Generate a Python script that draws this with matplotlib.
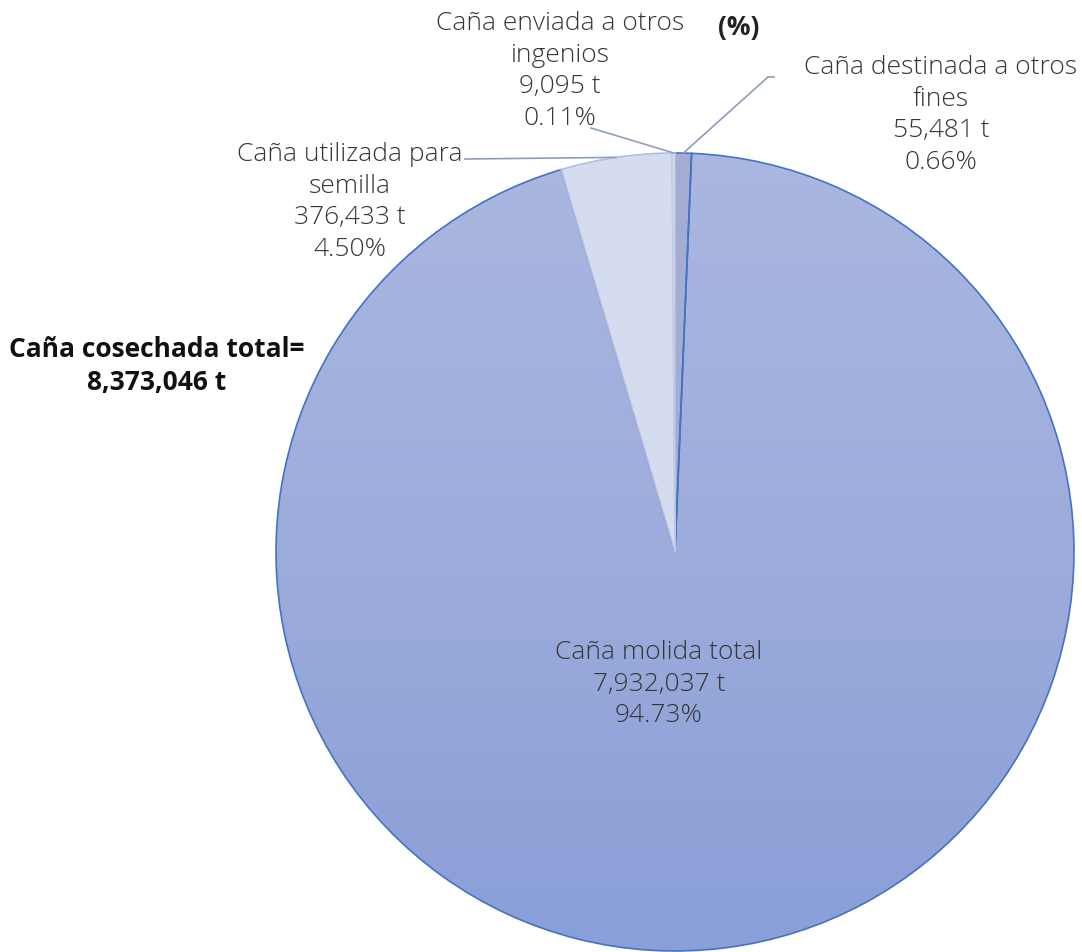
import numpy as np
import matplotlib.pyplot as plt
from matplotlib.colors import LinearSegmentedColormap

# datos
nombres = ['Caña destinada a otros\nfines', 'Caña molida total',
           'Caña utilizada para\nsemilla', 'Caña enviada a otros\ningenios']
toneladas = [55481, 7932037, 376433, 9095]
porcentajes = [0.66, 94.73, 4.50, 0.11]
total_texto = 'Caña cosechada total=\n8,373,046 t'

colores = ['#a3acd1', 'none', '#d6dcef', '#e2e5f2']
bordes = ['#4472c4', '#4472c4', '#b4bfe2', '#c4cae4']

W, H = 1082, 953
fig = plt.figure(figsize=(W / 100, H / 100), dpi=100)
ax = fig.add_axes([0, 0, 1, 1])

cx, cy, r = 675, H - 553, 399

wedges, _ = ax.pie(toneladas, startangle=90, counterclock=False, radius=r,
                   center=(cx, cy), frame=True)
for w, fc, ec in zip(wedges, colores, bordes):
    w.set_facecolor(fc)
    w.set_edgecolor(ec)
    w.set_linewidth(1.2)
ax.set_xlim(0, W)
ax.set_ylim(0, H)
ax.set_aspect('equal')
ax.axis('off')

# degradado para la rebanada grande
cmap = LinearSegmentedColormap.from_list('g', ['#8a9fd8', '#9cacdb', '#aab7e0'])
grad = np.linspace(0, 1, 256).reshape(-1, 1)
im = ax.imshow(grad, cmap=cmap, origin='lower', aspect='auto',
               extent=(cx - r, cx + r, cy - r, cy + r), zorder=0.5)
im.set_clip_path(wedges[1])
wedges[1].set_zorder(1)

fuente = 'Open Sans'
gris = '#363636'

# etiquetas
pos_texto = [(941, H - 115), (659, H - 684), (350, H - 202), (560, H - 71)]
for nom, t, p, (x, y) in zip(nombres, toneladas, porcentajes, pos_texto):
    ax.text(x, y, '%s\n%s t\n%.2f%%' % (nom, format(t, ','), p),
            ha='center', va='center', fontsize=19, family=fuente,
            fontweight='light', color=gris, linespacing=1.36, zorder=5)

ax.text(157, H - 366, total_texto, ha='center', va='center', fontsize=19,
        family=fuente, fontweight='bold', color='#111111', linespacing=1.3)
ax.text(739, H - 28, '(%)', ha='center', va='center', fontsize=19,
        family=fuente, fontweight='bold', color='#222222')

# líneas guía
def punto_medio(w):
    a = np.deg2rad((w.theta1 + w.theta2) / 2)
    return cx + r * np.cos(a), cy + r * np.sin(a)

linea = dict(color='#8e9dbe', lw=1.2, zorder=4)
x0, y0 = punto_medio(wedges[0])
ax.plot([x0, 768, 774], [y0, H - 78, H - 78], **linea)
x3, y3 = punto_medio(wedges[3])
ax.plot([x3, 591], [y3, H - 129], **linea)
x2, y2 = punto_medio(wedges[2])
ax.plot([x2, 465], [y2, H - 160], **linea)

fig.savefig('out.png', dpi=100)
